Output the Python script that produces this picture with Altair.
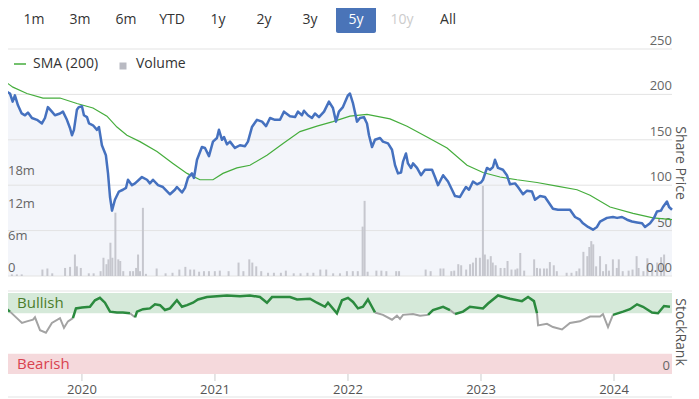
import altair as alt
import pandas as pd

# ---------------- data (time as decimal years) ----------------
price_t = [2019.414, 2019.434, 2019.459, 2019.479, 2019.496, 2019.519, 2019.547, 2019.572, 2019.594, 2019.624,
           2019.662, 2019.699, 2019.722, 2019.744, 2019.774, 2019.797, 2019.835, 2019.857, 2019.887, 2019.910,
           2019.925, 2019.940, 2019.962, 2019.977, 2020.000, 2020.015, 2020.038, 2020.053, 2020.083, 2020.113,
           2020.128, 2020.150, 2020.180, 2020.196, 2020.211, 2020.226, 2020.248, 2020.278, 2020.308, 2020.331,
           2020.346, 2020.376, 2020.399, 2020.451, 2020.489, 2020.511, 2020.534, 2020.572, 2020.609, 2020.662,
           2020.699, 2020.714, 2020.752, 2020.775, 2020.797, 2020.827, 2020.842, 2020.865, 2020.902, 2020.925,
           2020.955, 2020.985, 2021.015, 2021.030, 2021.053, 2021.068, 2021.090, 2021.113, 2021.150, 2021.188,
           2021.226, 2021.248, 2021.278, 2021.316, 2021.354, 2021.384, 2021.414, 2021.451, 2021.489, 2021.519,
           2021.564, 2021.602, 2021.624, 2021.654, 2021.669, 2021.699, 2021.729, 2021.752, 2021.782, 2021.820,
           2021.857, 2021.887, 2021.910, 2021.932, 2021.962, 2022.000, 2022.015, 2022.038, 2022.068, 2022.090,
           2022.120, 2022.143, 2022.158, 2022.181, 2022.203, 2022.241, 2022.263, 2022.301, 2022.331, 2022.354,
           2022.376, 2022.399, 2022.414, 2022.436, 2022.451, 2022.474, 2022.489, 2022.519, 2022.549, 2022.579,
           2022.632, 2022.654, 2022.677, 2022.715, 2022.752, 2022.782, 2022.805, 2022.842, 2022.865, 2022.887,
           2022.910, 2022.940, 2022.970, 2023.000, 2023.015, 2023.045, 2023.068, 2023.090, 2023.105, 2023.128,
           2023.165, 2023.195, 2023.218, 2023.256, 2023.278, 2023.316, 2023.346, 2023.383, 2023.406, 2023.444,
           2023.481, 2023.504, 2023.541, 2023.579, 2023.617, 2023.669, 2023.707, 2023.744, 2023.767, 2023.805,
           2023.842, 2023.872, 2023.895, 2023.947, 2023.992, 2024.023, 2024.060, 2024.098, 2024.135, 2024.173,
           2024.211, 2024.233, 2024.271, 2024.301, 2024.323, 2024.353, 2024.368, 2024.398, 2024.414, 2024.436]
price_v = [212, 203, 201, 192, 199, 188, 179, 177, 180, 174,
           172, 168, 174, 186, 181, 177, 179, 181, 172, 163,
           155, 161, 183, 186, 187, 177, 175, 168, 166, 161,
           164, 144, 133, 113, 87, 72, 84, 93, 95, 97,
           106, 100, 102, 109, 106, 102, 106, 100, 98, 90,
           95, 98, 92, 97, 108, 113, 108, 128, 142, 141,
           132, 148, 152, 161, 150, 153, 145, 148, 141, 144,
           143, 148, 164, 172, 170, 165, 174, 172, 172, 181,
           176, 175, 181, 177, 182, 177, 174, 179, 175, 181,
           192, 185, 170, 181, 186, 199, 201, 190, 170, 174,
           175, 168, 155, 142, 150, 152, 148, 146, 139, 122,
           113, 114, 126, 135, 124, 119, 124, 119, 111, 117,
           117, 109, 100, 111, 104, 95, 88, 87, 93, 98,
           95, 104, 101, 103, 106, 119, 117, 120, 128, 119,
           117, 111, 101, 102, 98, 90, 94, 93, 84, 88,
           87, 82, 74, 73, 73, 73, 65, 62, 58, 54,
           51, 54, 60, 64, 65, 64, 65, 62, 60, 59,
           58, 54, 58, 64, 71, 72, 76, 82, 76, 73]

sma_t = [2019.414, 2019.481, 2019.586, 2019.707, 2019.835, 2019.962, 2020.083, 2020.188, 2020.263, 2020.338,
         2020.436, 2020.564, 2020.684, 2020.790, 2020.887, 2020.985, 2021.060, 2021.165, 2021.263, 2021.391,
         2021.512, 2021.639, 2021.767, 2021.887, 2022.015, 2022.143, 2022.316, 2022.444, 2022.594, 2022.745,
         2022.895, 2023.015, 2023.143, 2023.271, 2023.421, 2023.571, 2023.722, 2023.820, 2023.970, 2024.143,
         2024.293, 2024.436]
sma_v = [215, 208, 201, 196, 196, 190, 185, 176, 164, 155,
         148, 137, 124, 113, 106, 106, 113, 119, 122, 133,
         146, 159, 165, 170, 176, 178, 173, 165, 153, 141,
         122, 114, 109, 106, 103, 99, 95, 89, 76, 69,
         64, 62]

vol_t = [2019.436, 2019.474, 2019.511, 2019.669, 2019.707, 2019.744, 2019.842, 2019.880, 2019.917, 2019.932,
         2019.962, 2020.023, 2020.060, 2020.113, 2020.135, 2020.158, 2020.173, 2020.188, 2020.203, 2020.226,
         2020.248, 2020.263, 2020.286, 2020.338, 2020.361, 2020.384, 2020.399, 2020.414, 2020.436, 2020.459,
         2020.541, 2020.609, 2020.662, 2020.714, 2020.760, 2020.797, 2020.827, 2020.865, 2020.902, 2020.940,
         2020.985, 2021.023, 2021.090, 2021.166, 2021.203, 2021.248, 2021.271, 2021.301, 2021.339, 2021.391,
         2021.436, 2021.489, 2021.527, 2021.587, 2021.639, 2021.692, 2021.737, 2021.790, 2021.835, 2021.888,
         2021.940, 2021.993, 2022.038, 2022.076, 2022.113, 2022.128, 2022.151, 2022.218, 2022.256, 2022.294,
         2022.369, 2022.391, 2022.594, 2022.632, 2022.707, 2022.730, 2022.790, 2022.812, 2022.843, 2022.865,
         2022.903, 2022.933, 2022.955, 2022.978, 2023.008, 2023.031, 2023.046, 2023.068, 2023.091, 2023.106,
         2023.128, 2023.166, 2023.196, 2023.219, 2023.249, 2023.279, 2023.294, 2023.316, 2023.346, 2023.422,
         2023.444, 2023.467, 2023.497, 2023.519, 2023.542, 2023.572, 2023.595, 2023.670, 2023.707, 2023.745,
         2023.767, 2023.798, 2023.828, 2023.843, 2023.858, 2023.873, 2023.895, 2023.925, 2023.948, 2023.971,
         2023.993, 2024.023, 2024.053, 2024.068, 2024.098, 2024.143, 2024.173, 2024.204, 2024.219, 2024.256,
         2024.286, 2024.323, 2024.361, 2024.391, 2024.414]
vol_v = [0.3, 0.3, 0.3, 1.2, 1.4, 0.5, 1.5, 1.7, 4.0, 1.8,
         1.5, 0.5, 0.5, 0.9, 3.4, 2.2, 3.1, 6.2, 3.4, 11.8,
         3.1, 2.8, 0.9, 0.9, 0.9, 1.5, 4.0, 0.9, 12.7, 0.4,
         1.4, 0.5, 0.6, 1.2, 1.7, 1.2, 1.2, 0.8, 0.9, 0.9,
         0.9, 1.0, 0.9, 2.5, 0.9, 3.1, 2.5, 1.8, 0.9, 0.6,
         0.6, 0.6, 1.0, 0.5, 0.5, 0.6, 0.6, 1.2, 1.2, 0.5,
         0.5, 0.9, 0.9, 0.9, 9.2, 14.0, 0.8, 1.0, 1.0, 0.9,
         0.9, 0.9, 1.2, 0.9, 1.4, 1.4, 0.9, 1.0, 2.2, 2.0,
         1.2, 2.2, 2.5, 3.4, 3.4, 16.8, 4.0, 3.1, 3.7, 2.5,
         2.0, 1.5, 1.5, 2.8, 1.2, 1.2, 1.4, 4.3, 1.0, 3.1,
         1.5, 1.4, 1.4, 1.4, 2.6, 2.0, 0.9, 0.6, 0.6, 0.9,
         1.4, 4.5, 3.7, 5.4, 6.5, 5.9, 1.8, 3.7, 0.9, 2.2,
         1.0, 3.1, 1.5, 3.1, 0.9, 1.0, 1.2, 3.7, 1.5, 0.9,
         3.3, 1.2, 2.5, 3.5, 4.0]

rank_t = [2019.414, 2019.459, 2019.511, 2019.549, 2019.586, 2019.632, 2019.647, 2019.685, 2019.729, 2019.774,
          2019.835, 2019.865, 2019.895, 2019.932, 2019.955, 2020.000, 2020.060, 2020.098, 2020.135, 2020.173,
          2020.211, 2020.263, 2020.308, 2020.361, 2020.399, 2020.414, 2020.459, 2020.511, 2020.549, 2020.587,
          2020.624, 2020.662, 2020.714, 2020.752, 2020.790, 2020.835, 2020.872, 2020.940, 2021.015, 2021.090,
          2021.188, 2021.263, 2021.338, 2021.391, 2021.429, 2021.564, 2021.617, 2021.714, 2021.767, 2021.827,
          2021.850, 2021.917, 2021.955, 2022.000, 2022.038, 2022.075, 2022.113, 2022.150, 2022.180, 2022.203,
          2022.263, 2022.331, 2022.368, 2022.391, 2022.414, 2022.489, 2022.542, 2022.602, 2022.639, 2022.715,
          2022.767, 2022.805, 2022.865, 2022.917, 2023.015, 2023.053, 2023.128, 2023.218, 2023.308, 2023.354,
          2023.398, 2023.421, 2023.429, 2023.496, 2023.541, 2023.609, 2023.669, 2023.744, 2023.820, 2023.895,
          2023.917, 2023.955, 2023.992, 2024.068, 2024.120, 2024.173, 2024.218, 2024.286, 2024.331, 2024.376,
          2024.421]
rank_v = [83, 77, 69, 63, 65, 67, 70, 54, 51, 63,
          69, 57, 65, 69, 81, 82, 83, 91, 94, 88,
          77, 76, 76, 75, 70, 77, 80, 81, 86, 85,
          79, 81, 91, 83, 85, 88, 92, 95, 96, 97,
          96, 97, 95, 88, 95, 95, 92, 93, 88, 83,
          88, 75, 91, 94, 89, 81, 83, 92, 83, 76,
          73, 67, 72, 68, 73, 74, 72, 73, 79, 83,
          79, 74, 77, 83, 81, 87, 97, 93, 90, 95,
          90, 75, 60, 62, 58, 55, 63, 65, 71, 71,
          74, 58, 73, 77, 80, 86, 83, 76, 75, 84,
          83]

buttons = ["1m", "3m", "6m", "YTD", "1y", "2y", "3y", "5y", "10y", "All"]
selected_button = "5y"
disabled_buttons = ["10y"]
price_ticks = [0, 50, 100, 150, 200, 250]
price_tick_labels = ["0.00", "50", "100", "150", "200", "250"]
vol_ticks = [0, 6, 12, 18]
vol_tick_labels = ["0", "6m", "12m", "18m"]
years = [2020, 2021, 2022, 2023, 2024]
band_labels = ["Bullish", "Bearish"]
band_lo = [75, 0]
band_hi = [100, 25]
legend_labels = ["SMA (200)", "Volume"]

# ---------------- styling ----------------
FONT = "Open Sans"
BLUE = "#4571bf"
GREEN_SMA = "#45ad3c"
GREEN_RANK = "#2b8a3e"
GRAY_RANK = "#a3a3a3"
GRID = "#e3e3e3"
W, H = 683, 391

XS = alt.Scale(domain=[price_t[0], price_t[-1]], range=[-4, 664], nice=False, zero=False)
PS = alt.Scale(domain=[0, 250], range=[268, 41], nice=False, zero=False)
VS = alt.Scale(domain=[0, 18], range=[268, 171.4], nice=False, zero=False)
RS = alt.Scale(domain=[0, 100], range=[366, 285], nice=False, zero=False)
BS = alt.Scale(type="point", domain=buttons, range=[26, 440], padding=0)


def X(field="t"):
    return alt.X(f"{field}:Q", scale=XS, axis=None)


one = pd.DataFrame({"a": [0]})
price_df = pd.DataFrame({"t": price_t, "v": price_v})
sma_df = pd.DataFrame({"t": sma_t, "v": sma_v})
vol_df = pd.DataFrame({"t": vol_t, "v": vol_v})
pgrid_df = pd.DataFrame({"v": price_ticks, "label": price_tick_labels})
vgrid_df = pd.DataFrame({"v": vol_ticks, "label": vol_tick_labels})
year_df = pd.DataFrame({"t": years, "label": [str(y) for y in years]})
band_df = pd.DataFrame({"lo": band_lo, "hi": band_hi, "label": band_labels})
btn_df = pd.DataFrame({
    "label": buttons,
    "state": ["selected" if b == selected_button else ("disabled" if b in disabled_buttons else "normal")
              for b in buttons],
})

# split StockRank into coloured runs (bullish >= 75)
rows = []
seg = 0
prev = None
for i, (t, v) in enumerate(zip(rank_t, rank_v)):
    state = "bull" if v >= band_lo[0] else "neutral"
    if prev is not None and state != prev:
        seg += 1
        rows.append({"t": rank_t[i - 1], "v": rank_v[i - 1], "seg": seg, "state": state})
    rows.append({"t": t, "v": v, "seg": seg, "state": state})
    prev = state
rank_df = pd.DataFrame(rows)

layers = []

# ---- buttons row ----
layers.append(
    alt.Chart(btn_df[btn_df.state == "selected"]).mark_bar(width=40, color="#4a74b8", cornerRadius=2).encode(
        x=alt.X("label:N", scale=BS, axis=None), y=alt.value(-2), y2=alt.value(25))
)
layers.append(
    alt.Chart(btn_df).mark_text(font=FONT, fontSize=14, baseline="middle").encode(
        x=alt.X("label:N", scale=BS, axis=None), y=alt.value(12), text="label:N",
        color=alt.Color("state:N", scale=alt.Scale(domain=["normal", "selected", "disabled"],
                                                   range=["#333333", "#ffffff", "#cccccc"]), legend=None))
)

# ---- price panel ----
layers.append(
    alt.Chart(price_df).mark_area(color="#f3f5fa").encode(
        x=X(), y=alt.Y("v:Q", scale=PS, axis=None), y2=alt.datum(0))
)
layers.append(
    alt.Chart(pgrid_df).mark_rule(color=GRID, strokeWidth=1).encode(
        y=alt.Y("v:Q", scale=PS, axis=None), x=alt.value(-4), x2=alt.value(664))
)
layers.append(
    alt.Chart(vol_df).mark_bar(width=2, color="#c6c7ce").encode(
        x=X(), y=alt.Y("v:Q", scale=VS, axis=None), y2=alt.datum(0))
)
layers.append(
    alt.Chart(pgrid_df).mark_text(font=FONT, fontSize=13, color="#666666", align="right",
                                  baseline="middle", dy=-8).encode(
        y=alt.Y("v:Q", scale=PS, axis=None), x=alt.value(664), text="label:N")
)
layers.append(
    alt.Chart(vgrid_df).mark_text(font=FONT, fontSize=13, color="#666666", align="left",
                                  baseline="middle", dy=-8).encode(
        y=alt.Y("v:Q", scale=VS, axis=None), x=alt.value(0), text="label:N")
)
layers.append(
    alt.Chart(sma_df).mark_line(color=GREEN_SMA, strokeWidth=1.2).encode(
        x=X(), y=alt.Y("v:Q", scale=PS, axis=None))
)
layers.append(
    alt.Chart(price_df).mark_line(color=BLUE, strokeWidth=2.5, strokeJoin="round").encode(
        x=X(), y=alt.Y("v:Q", scale=PS, axis=None))
)

# ---- legend ----
layers.append(
    alt.Chart(one).mark_rule(color=GREEN_SMA, strokeWidth=1.5).encode(
        x=alt.value(6), x2=alt.value(18), y=alt.value(56))
)
layers.append(
    alt.Chart(one).mark_text(font=FONT, fontSize=14, color="#333333", align="left", baseline="middle").encode(
        x=alt.value(25), y=alt.value(56), text=alt.value(legend_labels[0]))
)
layers.append(
    alt.Chart(one).mark_square(size=49, color="#b9bac2", opacity=1).encode(
        x=alt.value(115), y=alt.value(58))
)
layers.append(
    alt.Chart(one).mark_text(font=FONT, fontSize=14, color="#333333", align="left", baseline="middle").encode(
        x=alt.value(128), y=alt.value(56), text=alt.value(legend_labels[1]))
)
layers.append(
    alt.Chart(one).mark_text(font=FONT, fontSize=14, color="#555555", angle=90, baseline="middle").encode(
        x=alt.value(672), y=alt.value(155), text=alt.value("Share Price"))
)

# ---- StockRank panel ----
layers.append(
    alt.Chart(one).mark_rule(color=GRID, strokeWidth=1).encode(
        x=alt.value(-4), x2=alt.value(664), y=alt.value(283))
)
layers.append(
    alt.Chart(band_df).mark_rect().encode(
        x=alt.value(-4), x2=alt.value(664),
        y=alt.Y("lo:Q", scale=RS, axis=None), y2="hi:Q",
        color=alt.Color("label:N", scale=alt.Scale(domain=band_labels, range=["#d5e9d9", "#f5d9dc"]), legend=None))
)
layers.append(
    alt.Chart(band_df).transform_calculate(mid="(datum.lo + datum.hi) / 2").mark_text(
        font=FONT, fontSize=15, align="left", baseline="middle").encode(
        x=alt.value(9), y=alt.Y("mid:Q", scale=RS, axis=None), text="label:N",
        color=alt.Color("label:N", scale=alt.Scale(domain=band_labels, range=["#4b7d2b", "#d9434f"]), legend=None))
)
layers.append(
    alt.Chart(pd.DataFrame({"v": [0]})).mark_text(font=FONT, fontSize=13, color="#666666", align="right",
                                                  baseline="middle", dy=-8).encode(
        y=alt.Y("v:Q", scale=RS, axis=None), x=alt.value(662), text=alt.value("0"))
)
layers.append(
    alt.Chart(rank_df[rank_df.state == "neutral"]).mark_line(color=GRAY_RANK, strokeWidth=2).encode(
        x=X(), y=alt.Y("v:Q", scale=RS, axis=None), detail="seg:N")
)
layers.append(
    alt.Chart(rank_df[rank_df.state == "bull"]).mark_line(color=GREEN_RANK, strokeWidth=2.5).encode(
        x=X(), y=alt.Y("v:Q", scale=RS, axis=None), detail="seg:N")
)
layers.append(
    alt.Chart(year_df).mark_rule(color="#cccccc").encode(
        x=X(), y=alt.value(366), y2=alt.value(373))
)
layers.append(
    alt.Chart(year_df).mark_text(font=FONT, fontSize=13, color="#555555", baseline="middle").encode(
        x=X(), y=alt.value(382), text="label:N")
)
layers.append(
    alt.Chart(one).mark_rule(color=GRID, strokeWidth=1).encode(
        x=alt.value(-4), x2=alt.value(664), y=alt.value(389))
)
layers.append(
    alt.Chart(one).mark_text(font=FONT, fontSize=14, color="#555555", angle=90, baseline="middle").encode(
        x=alt.value(672), y=alt.value(324), text=alt.value("StockRank"))
)

chart = alt.layer(*layers).resolve_scale(
    x="independent", y="independent", color="independent"
).properties(
    width=W, height=H, autosize="none", padding=0, background="white"
).configure_view(stroke=None)

chart.save("out.html", embed_options={"renderer": "svg", "actions": False})
